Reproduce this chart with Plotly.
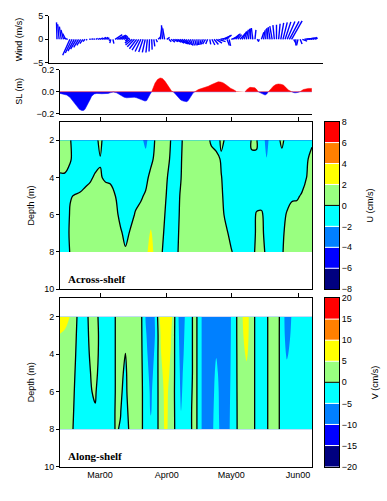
import plotly.graph_objects as go

W, H = 387, 501

# ---------------- data ----------------
# wind sticks (day of year 2000, m/s)
wind_day = list(range(41, 162))
wind_u = [-0.1, -0.3, -0.4, -0.5, -0.6, -0.9, -1.5, -1.4, -1.3, -1.2,
          -1.0, -0.8, -0.6, -0.4, -0.2, 0.3, 0.4, 0.3, 0.4, 0.5,
          0.6, 0.8, 0.8, 0.6, 0.3, -0.2, 0.2, 1.5, 1.8, 1.6,
          1.3, 1.0, 0.8, -0.6, -1.1, -1.4, -1.5, -1.5, -1.4, -1.2,
          -0.9, -0.6, -0.3, -0.1, 0.1, 0.2, 0.3, 0.5, 0.3, -0.2,
          -0.4, 0.6, 0.5, 0.8, 1.0, 1.2, 1.4, 1.5, 1.3, 1.0,
          0.8, 0.7, 0.5, 0.4, 0.3, 0.1, -0.1, -0.3, -0.5, -0.6,
          -0.4, 0.2, 0.6, 0.9, 1.2, 1.5, 1.8, 1.6, 1.4, 0.5,
          0.3, 1.5, 1.2, 1.0, 0.8, 1.2, 0.9, 0.6, 0.4, 0.2,
          -0.1, -0.3, 0.2, 0.3, -0.2, 0.5, 0.3, 0.1, -0.2, -0.4,
          -0.5, -0.3, 0.0, 0.3, 0.6, 0.9, 1.2, 1.6, 2.0, 2.2,
          0.5, 0.0, -0.3, 0.4, 1.0, 1.2, 1.3, 1.2, 1.0, 0.8, 0.5]
wind_v = [3.6, 3.2, 2.7, 2.0, 1.2, 0.3, -3.4, -2.9, -2.5, -2.1,
          -1.7, -1.3, -0.9, -0.5, -0.2, 0.0, 0.1, 0.1, 0.2, 0.2,
          0.3, 0.4, 0.4, 0.3, -0.3, -0.8, -0.9, 1.0, 0.9, 0.8,
          0.6, 0.4, 0.2, -0.4, -0.8, -1.2, -1.6, -2.0, -2.3, -2.6,
          -2.7, -2.8, -2.8, -2.6, -2.2, -1.5, -0.6, 0.5, 2.6, 3.0,
          2.3, 0.4, -0.5, -0.6, -0.5, -0.6, -0.8, -0.9, -1.0, -1.0,
          -1.1, -1.2, -1.3, -1.3, -1.3, -1.3, -1.2, -1.2, -1.1, -1.0,
          -1.0, -1.1, -1.2, -1.1, -0.8, -0.5, 0.3, 0.7, 0.9, -1.3,
          -1.4, 0.6, 1.0, 1.2, 1.0, 1.3, 1.6, 1.7, 2.0, 2.2,
          2.3, 2.4, 2.0, -0.4, -0.5, 1.5, 1.9, 2.2, 2.4, 2.6,
          2.8, 3.0, 3.1, 3.3, 3.5, 3.6, 3.7, 3.8, 3.8, 3.9,
          -0.9, -1.3, -1.3, -1.0, -0.4, 0.1, 0.2, 0.3, 0.3, 0.4, 0.3]

# sea level (m)
sl_day = [42.4, 44.0, 45.5, 47.0, 47.8, 49.0, 50.2, 51.4, 52.5, 53.3,
          54.0, 54.8, 55.6, 56.4, 57.1, 58.3, 59.5, 61.8, 63.3, 64.8,
          66.0, 67.2, 68.7, 70.0, 71.1, 72.2, 73.4, 74.6, 75.7, 76.9,
          78.0, 79.2, 80.4, 81.9, 82.7, 83.4, 84.2, 85.0, 85.8, 86.6,
          87.7, 88.9, 90.0, 91.2, 92.4, 93.5, 94.3, 95.0, 96.2, 97.4,
          98.5, 99.7, 100.5, 101.3, 102.0, 102.8, 103.6, 104.3, 105.1, 106.7,
          108.2, 109.8, 111.3, 112.9, 114.4, 115.9, 117.1, 118.3, 119.4, 120.6,
          121.8, 122.9, 124.2, 126.3, 128.4, 129.5, 130.7, 131.9, 133.0, 133.8,
          134.5, 135.3, 136.1, 136.9, 137.7, 138.5, 139.2, 140.4, 141.5, 142.7,
          143.8, 145.0, 146.2, 147.3, 148.5, 150.1, 150.9, 151.6, 152.8, 153.9,
          155.5, 157.8, 159.4]
sl_m = [-0.015, -0.02, -0.03, -0.05, -0.07, -0.10, -0.13, -0.16, -0.17, -0.17,
        -0.16, -0.135, -0.10, -0.07, -0.04, -0.02, -0.015, -0.018, -0.018, -0.015,
        -0.008, -0.003, -0.01, -0.025, -0.04, -0.05, -0.055, -0.053, -0.05, -0.05,
        -0.055, -0.065, -0.075, -0.085, -0.08, -0.05, -0.025, 0.0, 0.04, 0.08,
        0.11, 0.125, 0.12, 0.095, 0.06, 0.02, 0.005, 0.0, -0.025, -0.055,
        -0.075, -0.085, -0.09, -0.09, -0.08, -0.055, -0.03, -0.01, 0.0, 0.02,
        0.03, 0.035, 0.05, 0.065, 0.08, 0.09, 0.088, 0.08, 0.065, 0.045,
        0.03, 0.02, 0.005, None, 0.0, 0.025, 0.04, 0.04, 0.035, 0.02,
        0.0, -0.008, -0.015, -0.025, -0.03, -0.02, 0.0, 0.025, 0.05, 0.065,
        0.07, 0.068, 0.06, 0.04, 0.015, 0.0, -0.007, -0.01, -0.007, 0.0,
        0.02, 0.03, 0.03]

# current sections: time grid (day of year) x depth (m)
grid_day = [42.4, 44.7, 47.1, 49.4, 51.8, 54.1, 56.5, 58.8, 61.1, 63.5,
            65.8, 68.2, 70.5, 72.8, 75.2, 77.5, 79.9, 82.2, 84.6, 86.9,
            89.2, 91.6, 93.9, 96.3, 98.6, 100.9, 103.3, 105.6, 108.0, 110.3,
            112.7, 115.0, 117.3, 119.7, 122.0, 124.4, 126.7, 129.1, 131.4, 133.7,
            136.1, 138.4, 140.8, 143.1, 145.5, 147.8, 150.1, 152.5, 154.8, 157.2,
            159.5]
grid_depth = [2, 3, 4, 5, 6, 7, 8]

# across-shelf U (cm/s), one row per depth
U_2m = [1, 1, 0.14, -1, -1, -1, -1, -1, 0.85, -1.7, -1, -1, -1, -1, -1, -1, -1.5, -2.5, -1, 0.28,
        1, 1, -0.05, -1, -0.35, 1, 1, 1, 1, 1, -0.43, -1.5, 0.5, -0.4, -1, -1, -1, -1, 0.1, 0.1,
        -1, -2.6, -1, -1, 0.6, -1, -1, -1, -1, -1, -0.6]
U_3m = [1, 1, 0.3, -1, -1, -1, -1, -1, -0.15, -1, -1, -1, -1, -1, -1, -1, -1, -1.4, -0.9, 1,
        1, 1, -0.34, -1, -0.16, 1, 1, 1, 1, 1, 1, 1, -0.34, -1, -1, -1, -1, -1, -0.1, -0.1,
        -1, -1.95, -1, -1, -0.8, -1, -1, -1, -1, -0.3, 1]
U_4m = [-0.33, -0.33, -1, -1, -1, -1, -0.33, 0.35, 0.18, -0.31, -0.54, -1, -1, -1, -1, -1, -1, -1, 1, 1,
        1, 0.45, -1, -1, -0.06, 1, 1, 1, 1, 1, 1, 1, 0.11, -1, -1, -1, -1, -1, -1, -1,
        -1, -1, -1, -1, -1, -1, -1, -1, -1, 0.1, 1]
U_5m = [-1, -1, -0.1, 0.1, 0.28, 0.92, 1, 1, 1, 1, 1, -0.02, -1, -1, -1, -1, -0.43, 0.43, 1, 1,
        1, 0.06, -1, -1, 0.31, 1, 1, 1, 1, 1, 1, 1, 0.43, -1, -1, -1, -1, -1, -1, -1,
        -1, -1, -1, -1, -1, -1, -0.43, -0.3, 0.25, 1, 1]
U_6m = [-1, -1, 0.14, 1, 1, 1, 1, 1, 1, 1, 1, 1, -1, -1, -1, 0.3, 1, 1, 1, 1,
        1, -0.25, -1, -1, 0.54, 1, 1, 1, 1, 1, 1, 1, 1, -0.85, -1, -1, -1, -1, -1, 0.2,
        0.3, -1, -1, -1, -1, 0.22, 1, 1, 1, 1, 1]
U_7m = [-1, -1, 0.28, 1, 1, 1, 1, 1, 1, 1, 1, 1, 0.54, -1, 0.43, 1, 1, 1, 2.25, 1,
        1, -0.79, -1, -1, 0.89, 1, 1, 1, 1, 1, 1, 1, 1, 0.5, -1, -1, -1, -1, -1, 0.28,
        0.6, -1, -1, -1, -0.75, 1, 1, 1, 1, 1, 1]
U_8m = [-1, -1, 0.09, 1, 1, 1, 1, 1, 1, 1, 1, 1, 1, 0.43, 1, 1, 1, 1.4, 3, 1,
        0.43, -1, -1, -0.7, 1, 1, 1, 1, 1, 1, 1, 1, 1, 1, 0.22, -1, -1, -1, -1, 0.6,
        1, -0.6, -1, -1, -0.32, 1, 1, 1, 1, 1, 1]

# along-shelf V (cm/s)
V_2m = [7.5, 7.5, 4.78, 1.48, -2.5, -2.5, 2.05, 2.5, -2.13, -2.5, -2.5, 0.13, 2.5, 2.5, 2.5, 2.5, 1.35, -5.25, -7.5, -4.3,
        7.5, 7.5, 7.5, -2.38, -7.5, -4.3, -0.38, 1.0, -4.75, -7.5, -7.5, -7.5, -7.5, -7.5, -4.78, -0.23, 4.25, 7.5, 1.83, -1.08,
        -2.5, -0.7, 2.5, 2.5, -2.4, -7.5, -4.73, -2.5, -2.5, -2.5, -2.5]
V_3m = [4.75, 3.75, 2.5, 0.8, -2.5, -2.5, 1.35, 2.5, -1.4, -2.5, -2.5, 0.13, 2.5, 2.5, 2.5, 2.5, 1.35, -4.5, -7.5, -4.5,
        5.25, 7.5, 5.5, -2.0, -7.0, -4.0, -0.38, 1.0, -4.75, -7.5, -7.5, -7.5, -7.5, -7.5, -4.75, -0.23, 3.75, 7.0, 2.0, -1.18,
        -2.5, -0.7, 2.5, 2.5, -2.5, -6.75, -4.25, -2.5, -2.5, -2.5, -2.5]
V_4m = [2.5, 2.5, 2.5, 0.35, -2.5, -2.5, 0.63, 2.5, -1.68, -2.5, -2.5, 0.13, 2.5, -0.13, 2.5, 2.5, 1.35, -3.75, -7.25, -3.75,
        4.75, 7.5, 4.75, -1.75, -6.5, -3.75, -0.38, 1.0, -4.75, -7.5, -7.5, -5.25, -7.5, -7.5, -4.63, -0.25, 3.0, 5.75, 2.25, -1.33,
        -2.5, -0.7, 2.5, 2.5, -2.5, -5.5, -3.75, -2.5, -2.5, -2.5, -2.5]
V_5m = [2.5, 2.5, 2.5, -0.05, -2.5, -2.5, -0.1, 2.0, -2.5, -2.5, -2.5, 0.13, 1.0, -0.75, 2.5, 2.5, 1.35, -3.0, -6.5, -3.0,
        3.75, 7.25, 4.0, -1.5, -6.0, -3.25, -0.38, 1.0, -4.75, -7.5, -7.5, -4.0, -7.0, -7.5, -4.5, -0.25, 2.5, 3.75, 2.5, -1.48,
        -2.5, -0.7, 2.5, 2.5, -2.5, -3.75, -3.0, -2.5, -2.5, -2.5, -2.5]
V_6m = [2.5, 2.5, 2.5, -0.48, -2.5, -2.5, -0.38, 0.75, -3.75, -2.5, -2.5, 0.13, 0.5, -1.0, 2.5, 2.5, 1.35, -2.5, -5.75, -2.5,
        3.0, 6.5, 3.0, -1.25, -5.63, -3.0, -0.25, 1.0, -4.75, -7.5, -7.0, -3.5, -6.5, -7.5, -4.25, -0.3, 2.5, 3.0, 2.5, -1.48,
        -2.5, -0.7, 2.5, 2.5, -2.5, -3.0, -2.5, -2.5, -2.5, -2.5, -2.5]
V_7m = [2.5, 2.5, 2.5, -0.98, -2.5, -2.5, -2.5, -0.48, -2.5, -2.5, -2.5, 0.3, 0.13, -1.5, 1.83, 2.5, 1.35, -2.5, -5.38, -2.5,
        3.0, 6.25, 3.0, -1.13, -5.13, -2.75, -0.13, 1.0, -4.75, -7.5, -6.5, -3.25, -6.5, -7.5, -4.0, -0.35, 2.5, 2.5, 2.5, -1.48,
        -2.5, -0.7, 2.5, 2.5, -2.5, -2.5, -2.5, -2.5, -2.5, -2.5, -2.5]
V_8m = [2.5, 2.5, 2.5, -1.8, -2.5, -2.5, -2.5, -2.5, -2.5, -2.5, -2.5, 0.3, -0.2, -2.5, 1.48, 2.5, 1.35, -2.5, -4.0, -2.5,
        3.0, 6.0, 3.0, -1.0, -4.25, -2.5, -0.13, 1.0, -4.75, -7.5, -6.25, -3.0, -6.25, -7.5, -3.75, -0.38, 2.5, 2.5, 2.5, -1.48,
        -2.5, -0.7, 2.5, 2.5, -2.5, -2.5, -2.5, -2.5, -2.5, -2.5, -2.5]

month_days = [61, 92, 122, 153]
month_labels = ["Mar00", "Apr00", "May00", "Jun00"]
u_levels = [-8, -6, -4, -2, 0, 2, 4, 6, 8]
v_levels = [-20, -15, -10, -5, 0, 5, 10, 15, 20]
band_colors = ["#000080", "#0000ff", "#0080ff", "#00ffff",
               "#99ff80", "#ffff00", "#ff8000", "#ff0000"]

# ---------------- geometry (pixels) ----------------
WIND_X = (49, 323); WIND_Y = (11, 59)
PAN_X = (60, 312)
SL_Y = (66, 111)
U_Y = (119, 290)
V_Y = (299, 471)
CB_X = (325, 339)
T0, T1 = grid_day[0], grid_day[-1]


def dx(a, b):
    return [a / W, b / W]


def dy(top, bottom):
    return [1 - bottom / H, 1 - top / H]


px_per_day = (PAN_X[1] - PAN_X[0]) / (T1 - T0)
wind_t0 = T0 - (PAN_X[0] - WIND_X[0]) / px_per_day
wind_t1 = T1 + (WIND_X[1] - PAN_X[1]) / px_per_day
px_per_ms = (WIND_Y[1] - WIND_Y[0]) / 10.0
days_per_ms = px_per_ms / px_per_day

n_b = len(band_colors)
step_scale = []
for i, c in enumerate(band_colors):
    step_scale += [[i / n_b, c], [(i + 1) / n_b, c]]

fig = go.Figure()

# ---- wind sticks ----
sx, sy = [], []
for t, u, v in zip(wind_day, wind_u, wind_v):
    sx += [t, t + u * days_per_ms, None]
    sy += [0, v, None]
fig.add_trace(go.Scatter(x=sx, y=sy, mode="lines", line=dict(color="#0000ff", width=1.4),
                         xaxis="x", yaxis="y", hoverinfo="skip"))

# ---- sea level ----
sl_pos = [None if s is None else max(s, 0.0) for s in sl_m]
sl_neg = [None if s is None else min(s, 0.0) for s in sl_m]
fig.add_trace(go.Scatter(x=sl_day, y=sl_neg, mode="lines", fill="tozeroy",
                         line=dict(color="#0000ff", width=0.5), fillcolor="#0000ff",
                         xaxis="x2", yaxis="y2", hoverinfo="skip"))
fig.add_trace(go.Scatter(x=sl_day, y=sl_pos, mode="lines", fill="tozeroy",
                         line=dict(color="#ff0000", width=0.5), fillcolor="#ff0000",
                         xaxis="x2", yaxis="y2", hoverinfo="skip"))


# ---- contour sections ----
def add_section(z, levels, xa, ya):
    step = levels[1] - levels[0]
    fig.add_trace(go.Contour(
        x=grid_day, y=grid_depth, z=z, xaxis=xa, yaxis=ya,
        autocontour=False,
        contours=dict(start=levels[1], end=levels[-2], size=step,
                      coloring="fill", showlines=False),
        colorscale=step_scale, showscale=False, line=dict(width=0),
        hoverinfo="skip"))
    fig.add_trace(go.Contour(
        x=grid_day, y=grid_depth, z=z, xaxis=xa, yaxis=ya,
        autocontour=False,
        contours=dict(start=0, end=step / 2, size=step, coloring="none"),
        line=dict(color="black", width=1.3), showscale=False,
        hoverinfo="skip"))


U = [U_2m, U_3m, U_4m, U_5m, U_6m, U_7m, U_8m]
V = [V_2m, V_3m, V_4m, V_5m, V_6m, V_7m, V_8m]
add_section(U, u_levels, "x3", "y3")
add_section(V, v_levels, "x4", "y4")
fig.add_trace(go.Scatter(x=[None], y=[None], xaxis="x5", yaxis="y4", hoverinfo="skip"))


# ---- colour bars ----
def add_bar(levels, xa, ya):
    mids = [(a + b) / 2 for a, b in zip(levels[:-1], levels[1:])]
    fig.add_trace(go.Heatmap(x=[0], y=mids, z=[[m] for m in mids],
                             zmin=levels[0], zmax=levels[-1], colorscale=step_scale,
                             showscale=False, xaxis=xa, yaxis=ya, hoverinfo="skip"))
    lx, ly, zx, zy = [], [], [], []
    for lv in levels[1:-1]:
        if lv == 0:
            zx += [-0.5, 0.5, None]; zy += [lv, lv, None]
        else:
            lx += [-0.5, 0.5, None]; ly += [lv, lv, None]
    fig.add_trace(go.Scatter(x=lx, y=ly, mode="lines", line=dict(color="white", width=1),
                             xaxis=xa, yaxis=ya, hoverinfo="skip"))
    fig.add_trace(go.Scatter(x=zx, y=zy, mode="lines", line=dict(color="black", width=1),
                             xaxis=xa, yaxis=ya, hoverinfo="skip"))


add_bar(u_levels, "x6", "y6")
add_bar(v_levels, "x7", "y7")

# ---------------- layout ----------------
base = dict(showgrid=False, zeroline=False, linecolor="black", linewidth=1,
            tickcolor="black", tickwidth=1, ticklen=3)

fig.update_layout(
    width=W, height=H, margin=dict(l=0, r=0, t=0, b=0),
    paper_bgcolor="white", plot_bgcolor="white", showlegend=False,
    font=dict(family="Liberation Sans, Arial, sans-serif", size=9, color="black"),
    xaxis=dict(base, domain=dx(*WIND_X), range=[wind_t0, wind_t1], showline=True,
               ticks="", showticklabels=False, anchor="y"),
    yaxis=dict(base, domain=dy(*WIND_Y), range=[-5, 5], tickvals=[-5, 0, 5],
               ticks="outside", showline=True, anchor="x"),
    xaxis2=dict(base, domain=dx(*PAN_X), range=[T0, T1], showline=True,
                ticks="", showticklabels=False, anchor="y2"),
    yaxis2=dict(base, domain=dy(*SL_Y), range=[-0.2, 0.2], tickvals=[-0.2, 0, 0.2],
                tickformat=".1f", ticks="outside", showline=True, anchor="x2"),
    xaxis3=dict(base, domain=dx(*PAN_X), range=[T0, T1], side="top", showline=True,
                mirror=True, tickvals=month_days, ticks="outside", ticklen=4,
                showticklabels=False, anchor="y3"),
    yaxis3=dict(base, domain=dy(*U_Y), range=[10, 1], tickvals=[2, 4, 6, 8, 10],
                ticks="outside", showline=True, mirror=True, anchor="x3"),
    xaxis4=dict(base, domain=dx(*PAN_X), range=[T0, T1], showline=True, mirror=True,
                tickvals=month_days, ticktext=month_labels, ticks="", anchor="y4"),
    xaxis5=dict(base, domain=dx(*PAN_X), range=[T0, T1], side="top", overlaying="x4",
                tickvals=month_days, ticks="outside", ticklen=4,
                showticklabels=False, showline=False, anchor="y4"),
    yaxis4=dict(base, domain=dy(*V_Y), range=[10, 1], tickvals=[2, 4, 6, 8, 10],
                ticks="outside", showline=True, mirror=True, anchor="x4"),
    xaxis6=dict(base, domain=dx(*CB_X), range=[-0.5, 0.5], showline=True, mirror=True,
                ticks="", showticklabels=False, anchor="y6"),
    yaxis6=dict(base, domain=dy(*U_Y), range=[u_levels[0], u_levels[-1]],
                tickvals=u_levels, side="right", ticks="", showline=True,
                mirror=True, anchor="x6"),
    xaxis7=dict(base, domain=dx(*CB_X), range=[-0.5, 0.5], showline=True, mirror=True,
                ticks="", showticklabels=False, anchor="y7"),
    yaxis7=dict(base, domain=dy(*V_Y), range=[v_levels[0], v_levels[-1]],
                tickvals=v_levels, side="right", ticks="", showline=True,
                mirror=True, anchor="x7"),
)

ann = dict(xref="paper", yref="paper", showarrow=False, font=dict(size=9))
titles = [
    ("Wind (m/s)", 19, (WIND_Y[0] + WIND_Y[1]) / 2),
    ("SL (m)", 19, (SL_Y[0] + SL_Y[1]) / 2),
    ("Depth (m)", 31, (U_Y[0] + U_Y[1]) / 2),
    ("Depth (m)", 31, (V_Y[0] + V_Y[1]) / 2),
    ("U (cm/s)", 370, (U_Y[0] + U_Y[1]) / 2),
    ("V (cm/s)", 375, (V_Y[0] + V_Y[1]) / 2),
]
for txt, px, py in titles:
    fig.add_annotation(ann, text=txt, x=px / W, y=1 - py / H, textangle=-90,
                       xanchor="center", yanchor="middle")
for txt, py in [("Across-shelf", 279.5), ("Along-shelf", 460)]:
    fig.add_annotation(xref="paper", yref="paper", showarrow=False,
                       text="<b>" + txt + "</b>", x=66 / W, y=1 - py / H,
                       xanchor="left", yanchor="middle",
                       font=dict(family="Liberation Serif, Times New Roman, serif", size=11))

fig.write_html("out.html", config={"displayModeBar": False, "staticPlot": True},
               post_script="document.body.style.margin='0';document.body.style.overflow='hidden';")
